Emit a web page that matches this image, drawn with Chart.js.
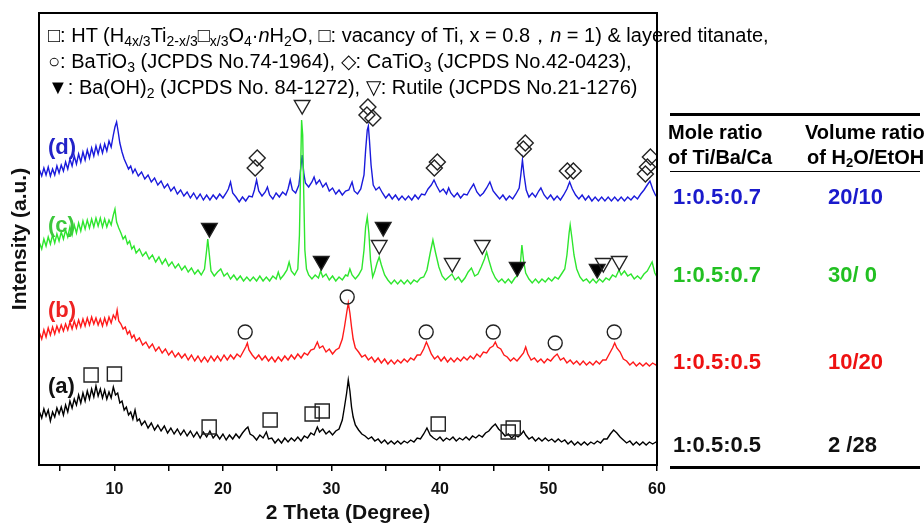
<!DOCTYPE html>
<html>
<head>
<meta charset="utf-8">
<script src="https://cdn.jsdelivr.net/npm/chart.js@4.4.1/dist/chart.umd.min.js"></script>
<style>
  body { margin: 0; background: #fff; font-family: Arial, "Liberation Sans", sans-serif; }
  #wrap { position: relative; width: 924px; height: 524px; overflow: hidden; }
  #wrap canvas { position: absolute; left: 0; top: 0; }
  .abs { position: absolute; white-space: nowrap; }
  #key { left: 48px; top: 22px; font-size: 20px; line-height: 26px; color: #000; }
  #key sub { font-size: 14px; vertical-align: -4px; line-height: 0; }
  .tag { font-size: 22px; font-weight: bold; left: 48px; line-height: 24px; }
  .hd { font-size: 20px; font-weight: bold; line-height: 24px; }
  .hd sub { font-size: 13px; vertical-align: -3px; line-height: 0; }
  .val { font-size: 22px; font-weight: bold; line-height: 24px; }
  .rule { position: absolute; left: 670px; width: 250px; background: #000; }
</style>
</head>
<body>
<div id="wrap">
  <canvas id="xrd" width="924" height="524"></canvas>

  <div id="key" class="abs">
    <div>□: HT (H<sub>4x/3</sub>Ti<sub>2-x/3</sub>□<sub>x/3</sub>O<sub>4</sub>·<i>n</i>H<sub>2</sub>O, □: vacancy of Ti, x = 0.8，<i>n</i> = 1) &amp; layered titanate,</div>
    <div>○: BaTiO<sub>3</sub> (JCPDS No.74-1964), ◇: CaTiO<sub>3</sub> (JCPDS No.42-0423),</div>
    <div>▼: Ba(OH)<sub>2</sub> (JCPDS No. 84-1272), ▽: Rutile (JCPDS No.21-1276)</div>
  </div>

  <div class="abs tag" style="top:135px;color:#2323c8">(d)</div>
  <div class="abs tag" style="top:213px;color:#3cc83c">(c)</div>
  <div class="abs tag" style="top:298px;color:#ee2222">(b)</div>
  <div class="abs tag" style="top:374px;color:#111">(a)</div>

  <div class="rule" style="top:113px;height:2.5px"></div>
  <div class="abs hd" style="left:668px;top:120px">Mole ratio</div>
  <div class="abs hd" style="left:668px;top:145px">of Ti/Ba/Ca</div>
  <div class="abs hd" style="left:805px;top:120px">Volume ratio</div>
  <div class="abs hd" style="left:807px;top:145px">of H<sub>2</sub>O/EtOH</div>
  <div class="rule" style="top:171px;height:1px"></div>

  <div class="abs val" style="left:673px;top:185px;color:#1a1acc">1:0.5:0.7</div>
  <div class="abs val" style="left:828px;top:185px;color:#1a1acc">20/10</div>
  <div class="abs val" style="left:673px;top:263px;color:#22c022">1:0.5:0.7</div>
  <div class="abs val" style="left:828px;top:263px;color:#22c022">30/ 0</div>
  <div class="abs val" style="left:673px;top:350px;color:#ee1111">1:0.5:0.5</div>
  <div class="abs val" style="left:828px;top:350px;color:#ee1111">10/20</div>
  <div class="abs val" style="left:673px;top:433px;color:#111">1:0.5:0.5</div>
  <div class="abs val" style="left:828px;top:433px;color:#111">2 /28</div>
  <div class="rule" style="top:466px;height:2.5px"></div>
</div>

<script>
// 2 theta (deg), stacked intensity (a.u.)
const seriesA = [
  [3.1,53],[3.3,47],[3.5,56],[3.7,49],[3.9,55],[4.1,44],[4.3,53],[4.5,48],[4.7,57],[4.9,51],[5.1,58],[5.3,50],[5.5,60],[5.7,53],[5.9,64],[6.1,57],[6.3,66],[6.5,60],[6.7,70],[6.9,62],
  [7.1,72],[7.3,64],[7.5,74],[7.7,66],[7.9,76],[8.1,68],[8.3,79],[8.5,69],[8.7,76],[8.9,67],[9.1,75],[9.3,66],[9.5,73],[9.7,67],[9.9,78],[10.1,70],[10.3,72],[10.5,62],[10.7,64],[10.9,55],
  [11.1,58],[11.3,50],[11.5,53],[11.7,46],[11.9,55],[12.1,44],[12.3,46],[12.5,40],[12.8,44],[13.1,37],[13.4,42],[13.7,35],[14,40],[14.3,34],[14.6,39],[14.9,32],[15.2,37],[15.5,31],[15.8,36],[16.1,30],
  [16.4,35],[16.7,29],[17,34],[17.3,28],[17.6,33],[17.9,27],[18.2,33],[18.5,28],[18.8,34],[19.1,27],[19.4,31],[19.7,26],[20,31],[20.3,25],[20.6,30],[20.9,26],[21.2,31],[21.5,27],[21.8,32],[22.1,36],
  [22.3,38],[22.5,31],[22.8,29],[23.1,25],[23.4,30],[23.7,27],[24,33],[24.2,26],[24.5,27],[24.8,22],[25.1,26],[25.4,22],[25.7,27],[26,23],[26.3,27],[26.6,24],[26.9,28],[27.2,24],[27.5,29],[27.8,27],
  [28.1,32],[28.4,30],[28.7,38],[28.9,33],[29.2,36],[29.5,31],[29.8,34],[30.1,30],[30.4,34],[30.7,36],[31,45],[31.2,58],[31.4,72],[31.55,85],[31.7,74],[31.85,58],[32,48],[32.2,40],[32.5,35],[32.8,31],
  [33.1,29],[33.4,26],[33.7,28],[34,24],[34.3,26],[34.6,22],[34.9,25],[35.2,21],[35.5,24],[35.8,21],[36.1,24],[36.4,21],[36.7,24],[37,22],[37.3,25],[37.6,23],[37.9,27],[38.2,26],[38.5,31],[38.8,37],
  [39.1,30],[39.4,27],[39.7,25],[40,28],[40.3,24],[40.6,27],[40.9,25],[41.2,28],[41.5,24],[41.8,27],[42.1,25],[42.4,28],[42.7,25],[43,29],[43.3,27],[43.6,30],[43.9,28],[44.2,32],[44.5,34],[44.8,38],
  [45.1,41],[45.4,36],[45.7,33],[46,29],[46.3,31],[46.6,27],[46.9,30],[47.2,28],[47.5,31],[47.7,34],[47.9,30],[48.2,26],[48.5,28],[48.8,24],[49.1,27],[49.4,24],[49.7,27],[50,24],[50.3,26],[50.6,23],
  [50.9,26],[51.2,23],[51.5,25],[51.8,21],[52.1,24],[52.4,20],[52.7,23],[53,20],[53.3,23],[53.6,20],[53.9,23],[54.2,21],[54.5,24],[54.8,22],[55.1,26],[55.4,26],[55.7,31],[56,35],[56.3,32],[56.6,28],
  [56.9,25],[57.2,22],[57.5,24],[57.8,20],[58.1,23],[58.4,20],[58.7,23],[59,20],[59.3,23],[59.6,21],[59.9,23],[60,22]
];
const seriesB = [
  [3.1,132],[3.3,126],[3.5,135],[3.7,128],[3.9,137],[4.1,130],[4.3,138],[4.5,131],[4.7,139],[4.9,133],[5.1,140],[5.3,134],[5.5,141],[5.7,135],[5.9,143],[6.1,136],[6.3,144],[6.5,137],[6.7,145],[6.9,138],
  [7.1,146],[7.3,139],[7.5,147],[7.7,140],[7.9,148],[8.1,141],[8.3,147],[8.5,140],[8.7,146],[8.9,139],[9.1,147],[9.3,140],[9.5,148],[9.7,142],[9.9,150],[10.1,146],[10.25,155],[10.4,144],[10.6,141],[10.8,136],
  [11,138],[11.2,131],[11.4,134],[11.6,127],[11.8,130],[12,124],[12.3,127],[12.6,120],[12.9,123],[13.2,117],[13.5,121],[13.8,114],[14.1,118],[14.4,112],[14.7,116],[15,110],[15.3,114],[15.6,108],[15.9,112],[16.2,107],
  [16.5,111],[16.8,105],[17.1,110],[17.4,104],[17.7,109],[18,103],[18.3,108],[18.6,103],[18.9,109],[19.2,104],[19.5,109],[19.8,104],[20.1,110],[20.4,105],[20.7,110],[21,106],[21.3,111],[21.6,108],[21.9,114],[22.1,118],
  [22.25,122],[22.4,115],[22.7,110],[23,106],[23.3,110],[23.6,105],[23.9,109],[24.2,104],[24.5,108],[24.8,103],[25.1,108],[25.4,104],[25.7,109],[26,105],[26.3,110],[26.6,106],[26.9,111],[27.2,107],[27.5,112],[27.8,110],
  [28.1,115],[28.4,116],[28.7,123],[28.9,117],[29.2,119],[29.5,113],[29.8,116],[30.1,111],[30.4,115],[30.7,117],[31,126],[31.2,138],[31.4,152],[31.55,162],[31.7,152],[31.85,138],[32,126],[32.2,117],[32.5,113],[32.8,108],
  [33.1,110],[33.4,105],[33.7,108],[34,103],[34.3,107],[34.6,102],[34.9,106],[35.2,101],[35.5,105],[35.8,101],[36.1,105],[36.4,102],[36.7,106],[37,103],[37.3,107],[37.6,105],[37.9,110],[38.2,110],[38.5,116],[38.75,123],
  [38.95,118],[39.2,111],[39.5,106],[39.8,109],[40.1,104],[40.4,108],[40.7,103],[41,107],[41.3,103],[41.6,107],[41.9,104],[42.2,108],[42.5,105],[42.8,109],[43.1,106],[43.4,111],[43.7,108],[44,113],[44.3,112],[44.6,117],
  [44.9,119],[45.1,123],[45.3,118],[45.6,116],[45.9,110],[46.2,108],[46.5,104],[46.8,107],[47.1,104],[47.4,108],[47.7,112],[47.9,118],[48.1,111],[48.4,105],[48.7,107],[49,103],[49.3,106],[49.6,102],[49.9,106],[50.2,104],
  [50.5,108],[50.8,111],[51.1,105],[51.4,107],[51.7,102],[52,105],[52.3,101],[52.6,104],[52.9,100],[53.2,104],[53.5,100],[53.8,103],[54.1,100],[54.4,104],[54.7,101],[55,105],[55.3,105],[55.6,111],[55.9,117],[56.1,122],
  [56.3,117],[56.6,113],[56.9,106],[57.2,104],[57.5,100],[57.8,103],[58.1,99],[58.4,102],[58.7,99],[59,102],[59.3,99],[59.6,102],[59.9,100],[60,102]
];
const seriesC = [
  [3.1,222],[3.3,216],[3.5,226],[3.7,219],[3.9,228],[4.1,221],[4.3,230],[4.5,222],[4.7,231],[4.9,224],[5.1,233],[5.3,226],[5.5,235],[5.7,228],[5.9,238],[6.1,230],[6.3,240],[6.5,232],[6.7,242],[6.9,234],
  [7.1,244],[7.3,236],[7.5,245],[7.7,237],[7.9,246],[8.1,238],[8.3,247],[8.5,239],[8.7,247],[8.9,238],[9.1,246],[9.3,238],[9.5,245],[9.7,240],[9.9,250],[10.05,256],[10.2,243],[10.4,237],[10.6,232],[10.8,226],
  [11,229],[11.2,221],[11.4,224],[11.6,216],[11.8,219],[12,212],[12.3,216],[12.6,209],[12.9,213],[13.2,206],[13.5,210],[13.8,203],[14.1,208],[14.4,201],[14.7,206],[15,199],[15.3,203],[15.6,197],[15.9,201],[16.2,195],
  [16.5,199],[16.8,193],[17.1,197],[17.4,191],[17.7,195],[18,190],[18.3,196],[18.5,215],[18.6,226],[18.75,210],[18.9,194],[19.2,189],[19.5,193],[19.8,196],[20.1,189],[20.4,192],[20.7,186],[21,190],[21.3,185],[21.6,189],
  [21.9,184],[22.2,188],[22.5,184],[22.8,188],[23.1,184],[23.4,189],[23.7,184],[24,188],[24.3,184],[24.6,189],[24.9,186],[25.1,193],[25.3,186],[25.6,190],[25.9,195],[26.1,203],[26.3,194],[26.6,190],[26.9,196],[27.05,230],
  [27.15,290],[27.25,345],[27.35,330],[27.45,270],[27.55,215],[27.7,196],[27.9,190],[28.2,186],[28.5,190],[28.8,187],[29,194],[29.2,188],[29.5,191],[29.8,185],[30.1,189],[30.4,184],[30.7,188],[31,185],[31.3,190],[31.5,189],
  [31.7,196],[31.9,190],[32.2,186],[32.5,190],[32.8,196],[33,215],[33.15,238],[33.3,248],[33.45,232],[33.6,205],[33.8,188],[34,194],[34.2,202],[34.4,208],[34.6,200],[34.9,190],[35.2,185],[35.5,181],[35.8,185],[36.1,181],
  [36.4,185],[36.7,181],[37,185],[37.3,181],[37.6,185],[37.9,183],[38.2,187],[38.5,188],[38.8,195],[39.1,212],[39.35,225],[39.6,212],[39.9,198],[40.2,189],[40.5,185],[40.8,188],[41.1,191],[41.4,185],[41.7,188],[42,183],
  [42.3,187],[42.6,193],[42.9,197],[43.2,189],[43.5,191],[43.8,198],[44.1,206],[44.3,213],[44.5,205],[44.8,194],[45.1,187],[45.4,183],[45.7,186],[46,182],[46.3,186],[46.6,182],[46.9,187],[47.2,190],[47.4,200],[47.55,220],
  [47.7,205],[47.9,192],[48.2,186],[48.5,182],[48.8,186],[49.1,182],[49.4,186],[49.7,183],[50,187],[50.3,184],[50.6,188],[50.9,186],[51.2,191],[51.5,196],[51.7,210],[51.9,232],[52,240],[52.15,228],[52.35,210],[52.6,196],
  [52.9,188],[53.2,184],[53.5,186],[53.8,182],[54.1,186],[54.4,182],[54.7,186],[55,183],[55.3,187],[55.6,185],[55.9,190],[56.2,188],[56.5,195],[56.7,190],[57,194],[57.3,189],[57.6,191],[57.9,186],[58.2,189],[58.5,186],
  [58.8,191],[59.1,194],[59.4,200],[59.55,203],[59.8,192],[60,188]
];
const seriesD = [
  [3.1,295],[3.3,289],[3.5,297],[3.7,290],[3.9,298],[4.1,289],[4.3,296],[4.5,290],[4.7,299],[4.9,292],[5.1,300],[5.3,294],[5.5,303],[5.7,296],[5.9,306],[6.1,299],[6.3,309],[6.5,301],[6.7,311],[6.9,303],
  [7.1,313],[7.3,305],[7.5,315],[7.7,307],[7.9,317],[8.1,309],[8.3,319],[8.5,311],[8.7,320],[8.9,312],[9.1,321],[9.3,314],[9.5,324],[9.7,318],[9.9,330],[10.05,338],[10.2,343],[10.35,333],[10.5,322],[10.7,313],
  [10.9,306],[11.1,301],[11.3,296],[11.5,299],[11.7,292],[11.9,296],[12.2,289],[12.5,293],[12.8,286],[13.1,290],[13.4,283],[13.7,287],[14,280],[14.3,284],[14.6,277],[14.9,281],[15.2,274],[15.5,278],[15.8,271],[16.1,275],
  [16.4,269],[16.7,273],[17,267],[17.3,272],[17.6,266],[17.9,271],[18.2,265],[18.5,270],[18.8,265],[19.1,270],[19.4,266],[19.7,271],[20,267],[20.3,272],[20.5,276],[20.7,283],[20.9,272],[21.2,268],[21.5,263],[21.8,268],
  [22.1,264],[22.4,269],[22.7,268],[22.9,275],[23.1,285],[23.3,274],[23.6,269],[23.9,273],[24.1,278],[24.3,270],[24.6,266],[24.9,272],[25.2,268],[25.5,273],[25.8,270],[26,276],[26.2,285],[26.4,275],[26.7,272],[27,280],
  [27.15,295],[27.3,310],[27.45,292],[27.6,282],[27.9,278],[28.2,283],[28.4,288],[28.6,281],[28.9,285],[29.2,278],[29.5,282],[29.8,274],[30.1,277],[30.4,271],[30.7,275],[31,270],[31.3,274],[31.6,275],[31.9,283],[32.1,274],
  [32.4,271],[32.7,276],[33,290],[33.15,315],[33.3,335],[33.4,339],[33.5,325],[33.65,300],[33.85,280],[34.1,275],[34.4,278],[34.7,272],[35,267],[35.3,271],[35.6,266],[35.9,270],[36.2,265],[36.5,269],[36.8,265],[37.1,269],
  [37.4,265],[37.7,270],[38,266],[38.3,271],[38.6,270],[38.9,276],[39.2,280],[39.45,285],[39.7,279],[40,273],[40.3,276],[40.6,271],[40.8,277],[41,272],[41.3,268],[41.6,272],[41.9,267],[42.2,271],[42.5,270],[42.8,276],
  [43.1,281],[43.4,273],[43.7,269],[44,272],[44.3,277],[44.6,283],[44.9,274],[45.2,270],[45.5,266],[45.8,270],[46.1,265],[46.4,269],[46.7,266],[47,271],[47.3,277],[47.45,290],[47.6,305],[47.75,290],[47.95,275],[48.2,268],
  [48.5,272],[48.8,268],[49.1,274],[49.3,277],[49.6,270],[49.9,266],[50.2,270],[50.5,265],[50.8,269],[51.1,265],[51.4,270],[51.7,276],[51.95,283],[52.2,276],[52.5,270],[52.8,266],[53.1,270],[53.4,265],[53.7,269],[54,264],
  [54.3,268],[54.6,264],[54.9,268],[55.2,264],[55.5,268],[55.8,264],[56.1,268],[56.4,264],[56.7,268],[57,264],[57.3,268],[57.6,265],[57.9,269],[58.2,266],[58.5,271],[58.8,275],[59.1,280],[59.35,284],[59.6,276],[59.85,270],
  [60,268]
];

// phase markers (2 theta, height)
const htMarks = [[7.85,90],[10.0,91],[18.73,38],[24.35,45],[28.22,51],[29.15,54],[39.84,41],[46.29,33],[46.75,37]];
const batio3Marks = [[22.05,133],[31.45,168],[38.73,133],[44.91,133],[50.62,122],[56.06,133]];
const catio3Marks = [[23.16,307],[22.97,297],[33.36,358],[33.27,350],[33.82,347],[39.76,303],[39.48,297],[47.86,322],[47.68,316],[51.74,294],[52.29,294],[59.39,308],[59.12,298],[58.93,291]];
const rutileMarks = [[27.3,360],[34.4,220],[41.13,202],[43.9,220],[55.05,202],[56.52,204]];
const baoh2Marks = [[18.75,237],[29.06,204],[34.77,238],[47.12,198],[54.49,196]];

const xTicks = [10, 20, 30, 40, 50, 60];

const toXY = arr => arr.map(p => ({ x: p[0], y: p[1] }));

function curve(data, color) {
  return { data: toXY(data), showLine: true, borderColor: color, borderWidth: 1.4,
           pointRadius: 0, tension: 0, order: 2 };
}
function marks(data, style, r, rot, fill) {
  return { data: toXY(data), showLine: false, pointStyle: style, pointRadius: r,
           pointRotation: rot, pointBorderColor: '#222', pointBorderWidth: 1.4,
           pointBackgroundColor: fill, order: 1 };
}

const framePlugin = {
  id: 'frame',
  afterDraw(chart) {
    const { ctx, chartArea: a } = chart;
    ctx.save();
    ctx.strokeStyle = '#000';
    ctx.lineWidth = 2;
    ctx.strokeRect(a.left, a.top, a.right - a.left, a.bottom - a.top);
    ctx.restore();
  }
};

new Chart(document.getElementById('xrd'), {
  type: 'scatter',
  data: {
    datasets: [
      curve(seriesA, '#000000'),
      curve(seriesB, '#ff1a1a'),
      curve(seriesC, '#2ee62e'),
      curve(seriesD, '#1a1adc'),
      marks(htMarks, 'rect', 10, 0, 'rgba(0,0,0,0)'),
      marks(batio3Marks, 'circle', 7, 0, 'rgba(0,0,0,0)'),
      marks(catio3Marks, 'rectRot', 8, 0, 'rgba(0,0,0,0)'),
      marks(rutileMarks, 'triangle', 9, 180, 'rgba(0,0,0,0)'),
      marks(baoh2Marks, 'triangle', 9, 180, '#000')
    ]
  },
  options: {
    responsive: false,
    animation: false,
    layout: { padding: { left: 10, right: 267, top: 13, bottom: 0 } },
    plugins: { legend: { display: false }, tooltip: { enabled: false } },
    scales: {
      x: {
        type: 'linear', min: 3.05, max: 60,
        afterFit: s => { s.height = 59; },
        border: { display: false },
        grid: { drawOnChartArea: false, drawTicks: true, tickLength: 6, color: '#000', lineWidth: 1.5 },
        ticks: {
          stepSize: 5, includeBounds: false, padding: 9, color: '#111',
          font: { family: 'Arial', size: 16, weight: 'bold' },
          callback: v => xTicks.includes(v) ? String(v) : ''
        },
        title: { display: true, text: '2 Theta (Degree)', color: '#111', padding: 0,
                 font: { family: 'Arial', size: 21, weight: 'bold', lineHeight: 1 } }
      },
      y: {
        min: 0, max: 452,
        afterFit: s => { s.width = 29; },
        border: { display: false },
        grid: { display: false },
        ticks: { display: false },
        title: { display: true, text: 'Intensity (a.u.)', color: '#111', padding: 0,
                 font: { family: 'Arial', size: 21, weight: 'bold', lineHeight: 1 } }
      }
    }
  },
  plugins: [framePlugin]
});
</script>
</body>
</html>
